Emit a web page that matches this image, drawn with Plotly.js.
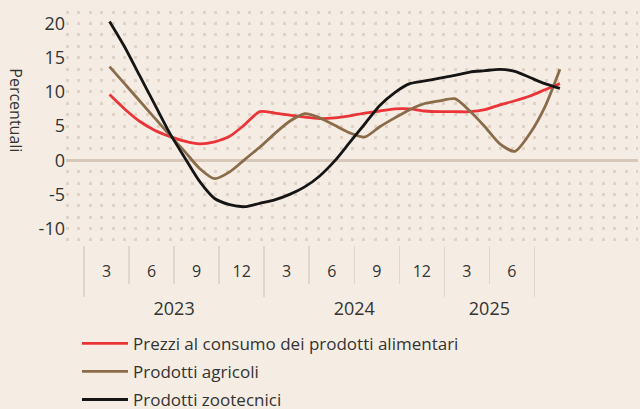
<!DOCTYPE html>
<html>
<head>
<meta charset="utf-8">
<script src="https://cdn.plot.ly/plotly-3.0.1.min.js"></script>
<style>
  html, body { margin: 0; padding: 0; background: #f5ede4; }
  #chart { width: 640px; height: 409px; }
</style>
</head>
<body>
<div id="chart"></div>
<script>
// Monthly observations, March 2023 – September 2025
const months = ["2023-03","2023-04","2023-05","2023-06","2023-07","2023-08","2023-09","2023-10","2023-11","2023-12",
                "2024-01","2024-02","2024-03","2024-04","2024-05","2024-06","2024-07","2024-08","2024-09","2024-10","2024-11","2024-12",
                "2025-01","2025-02","2025-03","2025-04","2025-05","2025-06","2025-07","2025-08","2025-09"];

const seriesNames = ["Prezzi al consumo dei prodotti alimentari", "Prodotti agricoli", "Prodotti zootecnici"];

const alimentari = [9.6, 7.5, 5.7, 4.4, 3.5, 2.8, 2.4, 2.7, 3.5, 5.2,
                    7.1, 6.9, 6.6, 6.3, 6.1, 6.2, 6.5, 6.9, 7.2, 7.5, 7.5, 7.2,
                    7.1, 7.1, 7.1, 7.4, 8.1, 8.7, 9.4, 10.3, 11.2];

const agricoli = [13.7, 11.2, 8.7, 6.2, 3.7, 1.3, -1.2, -2.7, -1.7, 0.1,
                  1.9, 3.9, 5.7, 6.8, 6.2, 5.1, 4.0, 3.4, 4.9, 6.2, 7.4, 8.3,
                  8.7, 9.0, 7.2, 4.9, 2.4, 1.3, 3.9, 7.8, 13.3];

const zootecnici = [20.3, 16.6, 12.4, 8.2, 4.0, 0.4, -3.1, -5.6, -6.5, -6.8,
                    -6.3, -5.8, -5.0, -3.9, -2.3, -0.1, 2.6, 5.3, 8.0, 9.9, 11.2, 11.6,
                    12.0, 12.4, 12.9, 13.1, 13.3, 13.0, 12.1, 11.2, 10.5];

const monthTickLabels = ["3","6","9","12","3","6","9","12","3","6"];
const years = ["2023","2024","2025"];
const yTickValues = [-10,-5,0,5,10,15,20];
const yTickLabels = ["-10","-5","0","5","10","15","20"];

// ---- position helpers (month index from Jan 2023) ----
function monthIndex(s){ const [y,m] = s.split("-").map(Number); return (y-2023)*12 + m; }
const X = months.map(s => monthIndex(s) - 1.3);

const quarterBounds = monthTickLabels.map((_, i) => i*3).concat([monthTickLabels.length*3]);
const monthLabelPos = monthTickLabels.map((_, i) => i*3 + 1.5);
const yearBounds = [0, 12, 24, monthTickLabels.length*3];
const yearCenters = years.map((_, i) => (yearBounds[i] + yearBounds[i+1]) / 2);

const colors = ["#eb3438", "#8b6c4a", "#151515"];
const FONT = "Open Sans, Lato, sans-serif";
const TXT = "#333333";
const XR = [-1.2, 36.9];

const traces = [alimentari, agricoli, zootecnici].map((vals, i) => ({
  type: "scatter", mode: "lines", x: X, y: vals, name: seriesNames[i],
  legendgroup: "g" + i,
  line: { color: colors[i], width: 2.8, shape: "spline", smoothing: 0.7 },
  hoverinfo: "skip"
}));

const dotGrid = { color: "#e0d3c6", dash: "3px,8.4px", width: 3 };

const layout = {
  width: 640, height: 409,
  margin: { l: 66, r: 2, t: 3, b: 164, autoexpand: false },
  paper_bgcolor: "#f5ede4", plot_bgcolor: "#f5ede4",
  font: { family: FONT, color: TXT },
  showlegend: true,
  legend: {
    xref: "container", yref: "container", x: 77/640, y: 0.2036,
    xanchor: "left", yanchor: "top",
    font: { size: 17, family: FONT, color: TXT },
    bgcolor: "rgba(0,0,0,0)", tracegroupgap: 3, traceorder: "grouped",
    itemwidth: 46
  },
  xaxis: {
    range: XR, showgrid: false, zeroline: false, showline: false, automargin: false,
    tickmode: "array", tickvals: quarterBounds, ticks: "outside", ticklen: 38,
    tickwidth: 1.5, tickcolor: "#e3d6c9", showticklabels: false, fixedrange: true
  },
  xaxis2: {
    overlaying: "x", anchor: "y", side: "bottom", range: XR, automargin: false,
    showgrid: false, zeroline: false, showline: false, tickangle: 0,
    tickmode: "array", tickvals: monthLabelPos, ticktext: monthTickLabels,
    ticks: "", ticklabelstandoff: 15, tickfont: { size: 16, family: FONT, color: TXT }
  },
  xaxis3: {
    overlaying: "x", anchor: "y", side: "bottom", range: XR, automargin: false,
    showgrid: false, zeroline: false, showline: false,
    tickmode: "array", tickvals: yearBounds, ticks: "outside", ticklen: 51,
    tickwidth: 1.5, tickcolor: "#e3d6c9", showticklabels: false
  },
  xaxis4: {
    overlaying: "x", anchor: "y", side: "bottom", range: XR, automargin: false,
    showgrid: false, zeroline: false, showline: false, tickangle: 0,
    tickmode: "array", tickvals: yearCenters, ticktext: years,
    ticks: "", ticklabelstandoff: 51, tickfont: { size: 18, family: FONT, color: TXT }
  },
  yaxis: {
    range: [-12.4, 23], fixedrange: true, automargin: false,
    tickmode: "array", tickvals: yTickValues, ticktext: yTickLabels,
    ticks: "", tickfont: { size: 18, family: FONT, color: TXT },
    showgrid: true, gridcolor: dotGrid.color, griddash: dotGrid.dash, gridwidth: dotGrid.width,
    minor: { dtick: 5/3, tick0: 0, showgrid: true, gridcolor: dotGrid.color, griddash: dotGrid.dash, gridwidth: dotGrid.width, ticks: "" },
    zeroline: true, zerolinecolor: "#d8c8ba", zerolinewidth: 3,
    showline: false
  },
  annotations: [{
    text: "Percentuali", textangle: 90, showarrow: false,
    xref: "paper", yref: "paper", x: -0.088, y: 0.558, xanchor: "center", yanchor: "middle",
    font: { size: 16, family: FONT, color: TXT }
  }]
};

const helpers = ["x2","x3","x4"].map(ax => ({
  type: "scatter", mode: "none", x: [XR[0]], y: [0], xaxis: ax, yaxis: "y",
  showlegend: false, hoverinfo: "skip"
}));

Plotly.newPlot("chart", traces.concat(helpers), layout, { displayModeBar: false, staticPlot: true });
</script>
</body>
</html>
